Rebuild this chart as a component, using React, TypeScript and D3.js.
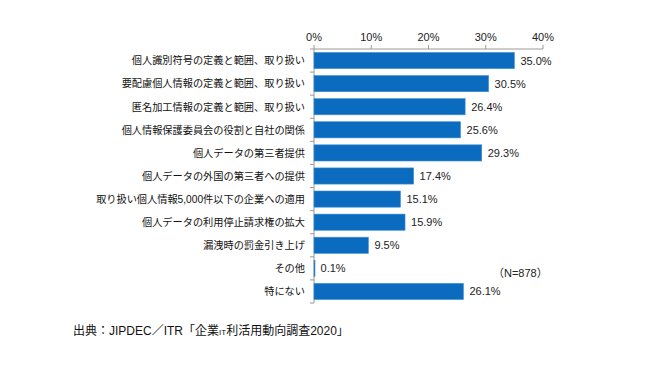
import React from 'react'
import { scaleLinear, scaleBand } from 'd3'

const categories = [
  '個人識別符号の定義と範囲、取り扱い',
  '要配慮個人情報の定義と範囲、取り扱い',
  '匿名加工情報の定義と範囲、取り扱い',
  '個人情報保護委員会の役割と自社の関係',
  '個人データの第三者提供',
  '個人データの外国の第三者への提供',
  '取り扱い個人情報5,000件以下の企業への適用',
  '個人データの利用停止請求権の拡大',
  '漏洩時の罰金引き上げ',
  'その他',
  '特にない',
]
const values = [35.0, 30.5, 26.4, 25.6, 29.3, 17.4, 15.1, 15.9, 9.5, 0.1, 26.1]
const ticks = [0, 10, 20, 30, 40]

const font = '"Liberation Sans", "Noto Sans CJK JP", Arial, sans-serif'

function App() {
  const width = 650,
    height = 365
  const left = 314,
    right = 543,
    top = 49,
    bottom = 303

  const x = scaleLinear().domain([0, 40]).range([left, right])
  const y = scaleBand().domain(categories).range([top, bottom]).paddingInner(0.3).paddingOuter(0.15)
  const step = y.step()

  return (
    <svg width={width} height={height} style={{ position: 'absolute', left: 0, top: 0, background: '#fff' }}>
      {/* top axis */}
      <line x1={left} x2={right} y1={top} y2={top} stroke="#9a9a9a" strokeWidth={1} />
      {ticks.map((t) => (
        <g key={t}>
          <line x1={x(t)} x2={x(t)} y1={top - 4} y2={top} stroke="#9a9a9a" />
          <text x={x(t)} y={41} textAnchor="middle" fontSize={11} fontFamily={font} fill="#222">
            {t}%
          </text>
        </g>
      ))}

      {/* left axis */}
      <line x1={left} x2={left} y1={top} y2={bottom} stroke="#9a9a9a" />
      {categories.map((c, i) => (
        <line key={'t' + i} x1={left - 4} x2={left} y1={top + i * step} y2={top + i * step} stroke="#9a9a9a" />
      ))}
      <line x1={left - 4} x2={left} y1={bottom} y2={bottom} stroke="#9a9a9a" />

      {categories.map((c, i) => {
        const by = y(c) as number
        const cy = by + y.bandwidth() / 2
        return (
          <g key={c}>
            <rect
              x={x(0)}
              y={by}
              width={Math.max(1, x(values[i]) - x(0))}
              height={y.bandwidth()}
              fill="#0B6CBF"
              stroke="#3f8fd2"
              strokeWidth={0.6}
            />
            <text x={305} y={cy + 3.8} textAnchor="end" fontSize={10.2} fontFamily={font} fill="#111">
              {c}
            </text>
            <text x={x(values[i]) + 6} y={cy + 4} fontSize={11} fontFamily={font} fill="#222">
              {values[i].toFixed(1)}%
            </text>
          </g>
        )
      })}

      <text x={493} y={277} fontSize={11} fontFamily={font} fill="#222">
        （N=878）
      </text>

      <text x={73} y={335} fontSize={12} fontFamily={font} fill="#111">
        出典：JIPDEC／ITR「企業<tspan fontSize={8}>IT</tspan>利活用動向調査2020」
      </text>
    </svg>
  )
}

export default App
